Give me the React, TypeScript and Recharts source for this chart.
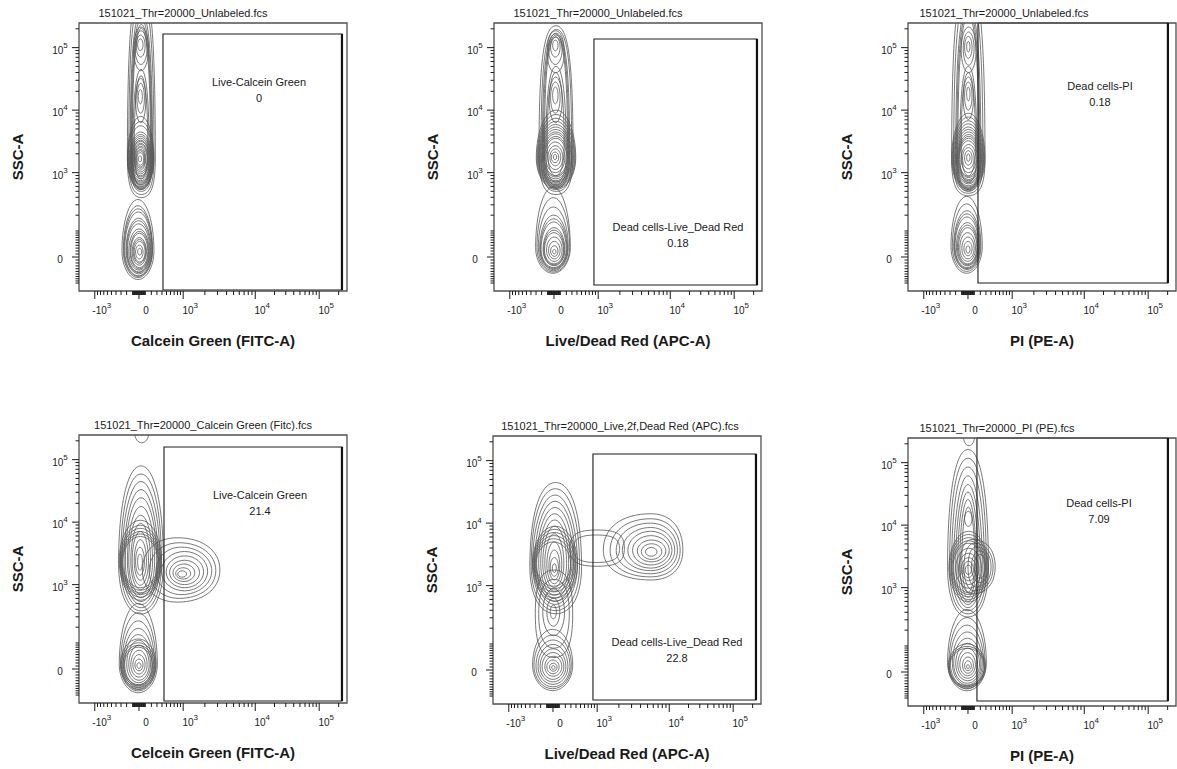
import React from "react"
import { ComposedChart, XAxis, YAxis, ReferenceArea, ReferenceLine } from "recharts"

// display units: x and y are in "decades" of the biexponential axis (0 sits on the "0" tick)
// ring = [x1, x2, y1, y2, k (share of height below widest line), q (squareness), kx (share of width left of tallest line)]
type Ring = number[]

const xDomain = [-0.882, 3.059]
const yDomain = [-0.544, 3.744]

const xMajorValues = [-1000, 0, 1000, 10000, 100000]
const xMajorLabels = [["-10", "3"], ["0", ""], ["10", "3"], ["10", "4"], ["10", "5"]]
const yMajorValues = [0, 1000, 10000, 100000]
const yMajorLabels = [["0", ""], ["10", "3"], ["10", "4"], ["10", "5"]]
const minorValues = [
  10, 20, 30, 40, 50, 60, 70, 80, 90, 100, 200, 300, 400, 500, 600, 700, 800, 900,
  2000, 3000, 4000, 5000, 6000, 7000, 8000, 9000,
  20000, 30000, 40000, 50000, 60000, 70000, 80000, 90000, 200000,
]
const xDecadePos = [0.65, 1.71, 2.65, 3.6]
const yDecadePos = [1.35, 2.35, 3.35, 4.35]

const titles = [
  "151021_Thr=20000_Unlabeled.fcs",
  "151021_Thr=20000_Unlabeled.fcs",
  "151021_Thr=20000_Unlabeled.fcs",
  "151021_Thr=20000_Calcein Green (Fitc).fcs",
  "151021_Thr=20000_Live,2f,Dead Red (APC).fcs",
  "151021_Thr=20000_PI (PE).fcs",
]
const xLabels = [
  "Calcein Green (FITC-A)",
  "Live/Dead Red (APC-A)",
  "PI (PE-A)",
  "Celcein Green (FITC-A)",
  "Live/Dead Red (APC-A)",
  "PI (PE-A)",
]
const gateNames = [
  "Live-Calcein Green",
  "Dead cells-Live_Dead Red",
  "Dead cells-PI",
  "Live-Calcein Green",
  "Dead cells-Live_Dead Red",
  "Dead cells-PI",
]
const gatePercents = [0, 0.18, 0.18, 21.4, 22.8, 7.09]

// gate rectangles [x1, x2, y1, y2]
const gates = [
  [0.353, 2.985, -0.528, 3.568],
  [0.588, 2.985, -0.448, 3.488],
  [0.147, 2.94, -0.416, 3.744],
  [0.368, 2.985, -0.512, 3.552],
  [0.588, 2.985, -0.48, 3.456],
  [0.132, 2.94, -0.464, 3.744],
]

const p1Rings: Ring[] = [
  [-0.17, 0.24, 0.95, 4.3, 0.19, 0.7], [-0.15, 0.22, 1.0, 4.1, 0.19, 0.7],
  [-0.13, 0.2, 1.05, 3.9, 0.19, 0.68], [-0.12, 0.19, 1.08, 3.8, 0.19, 0.66],
  [-0.11, 0.18, 1.1, 3.72, 0.19, 0.65], [-0.1, 0.17, 1.13, 3.66, 0.2, 0.64],
  [-0.08, 0.14, 2.98, 3.68], [-0.06, 0.12, 3.08, 3.62], [-0.04, 0.09, 3.2, 3.55], [-0.02, 0.06, 3.3, 3.49],
  [-0.09, 0.15, 1.15, 3.0, 0.25, 0.65], [-0.07, 0.13, 1.25, 2.9, 0.3, 0.62],
  [-0.05, 0.1, 2.15, 2.86], [-0.03, 0.08, 2.3, 2.78], [-0.01, 0.05, 2.45, 2.68],
  [-0.17, 0.22, 1.08, 2.25, 0.42], [-0.165, 0.215, 1.1, 2.17, 0.43], [-0.16, 0.21, 1.12, 2.1, 0.44],
  [-0.15, 0.2, 1.16, 2.0, 0.45], [-0.14, 0.19, 1.18, 1.96, 0.46], [-0.13, 0.18, 1.2, 1.93, 0.46],
  [-0.12, 0.17, 1.22, 1.9, 0.46], [-0.11, 0.16, 1.25, 1.87, 0.47], [-0.1, 0.15, 1.28, 1.85],
  [-0.09, 0.14, 1.3, 1.82, 0.48], [-0.08, 0.13, 1.33, 1.8], [-0.07, 0.12, 1.36, 1.77],
  [-0.06, 0.1, 1.39, 1.75], [-0.05, 0.09, 1.42, 1.72], [-0.04, 0.08, 1.44, 1.7],
  [-0.03, 0.07, 1.47, 1.67], [-0.01, 0.04, 1.52, 1.62],
  [-0.25, 0.22, -0.36, 0.92, 0.36], [-0.23, 0.2, -0.33, 0.82, 0.38], [-0.22, 0.195, -0.31, 0.77, 0.39],
  [-0.21, 0.19, -0.3, 0.72, 0.4], [-0.19, 0.18, -0.27, 0.62, 0.42], [-0.18, 0.17, -0.25, 0.58, 0.43],
  [-0.17, 0.16, -0.24, 0.53, 0.44], [-0.15, 0.15, -0.21, 0.45, 0.45], [-0.13, 0.14, -0.19, 0.41, 0.46],
  [-0.12, 0.13, -0.17, 0.38, 0.46], [-0.1, 0.11, -0.13, 0.31, 0.48], [-0.085, 0.1, -0.1, 0.28],
  [-0.07, 0.09, -0.08, 0.25], [-0.05, 0.06, -0.03, 0.19], [-0.02, 0.04, 0.03, 0.14],
]

const p2Rings: Ring[] = [
  [-0.22, 0.28, 1.0, 3.7, 0.25, 0.72], [-0.19, 0.26, 1.05, 3.64, 0.25, 0.72],
  [-0.17, 0.23, 1.1, 3.58, 0.24, 0.7], [-0.155, 0.215, 1.12, 3.55, 0.24, 0.69],
  [-0.14, 0.2, 1.15, 3.52, 0.24, 0.68],
  [-0.1, 0.15, 2.95, 3.62, 0.5, 0.6], [-0.08, 0.12, 3.08, 3.57], [-0.05, 0.09, 3.2, 3.52], [-0.02, 0.06, 3.3, 3.47],
  [-0.12, 0.18, 1.2, 3.05, 0.25, 0.65], [-0.1, 0.15, 1.3, 2.95, 0.3, 0.62],
  [-0.07, 0.12, 2.15, 2.88], [-0.05, 0.09, 2.3, 2.8], [-0.02, 0.06, 2.45, 2.72],
  [-0.26, 0.32, 1.08, 2.35, 0.4], [-0.25, 0.31, 1.1, 2.28, 0.41], [-0.24, 0.3, 1.12, 2.22, 0.42],
  [-0.23, 0.285, 1.14, 2.17, 0.43], [-0.22, 0.27, 1.16, 2.12, 0.44], [-0.21, 0.26, 1.18, 2.08, 0.45],
  [-0.2, 0.25, 1.2, 2.04, 0.45], [-0.185, 0.235, 1.22, 2.0, 0.46], [-0.17, 0.22, 1.25, 1.97, 0.46],
  [-0.155, 0.205, 1.28, 1.93, 0.47], [-0.14, 0.19, 1.3, 1.9, 0.47], [-0.12, 0.16, 1.35, 1.84, 0.48],
  [-0.09, 0.13, 1.4, 1.78], [-0.06, 0.1, 1.46, 1.73], [-0.04, 0.07, 1.51, 1.68], [-0.01, 0.04, 1.56, 1.64],
  [-0.27, 0.24, -0.26, 1.12, 0.3], [-0.25, 0.23, -0.24, 0.95, 0.33], [-0.23, 0.21, -0.22, 0.8, 0.36],
  [-0.21, 0.2, -0.2, 0.67, 0.38], [-0.2, 0.19, -0.185, 0.61, 0.39], [-0.19, 0.18, -0.17, 0.56, 0.4],
  [-0.16, 0.16, -0.14, 0.47, 0.42], [-0.15, 0.15, -0.125, 0.43, 0.43], [-0.14, 0.14, -0.11, 0.39, 0.44],
  [-0.11, 0.12, -0.07, 0.32, 0.46], [-0.08, 0.09, -0.03, 0.25, 0.48],
  [-0.05, 0.06, 0.01, 0.18], [-0.02, 0.03, 0.05, 0.12],
]

const p3Rings: Ring[] = [
  [-0.24, 0.25, 0.98, 4.4, 0.17, 0.7], [-0.21, 0.22, 1.02, 4.2, 0.17, 0.7],
  [-0.18, 0.19, 1.06, 4.0, 0.17, 0.68], [-0.165, 0.175, 1.08, 3.92, 0.17, 0.67],
  [-0.15, 0.16, 1.1, 3.85, 0.17, 0.66],
  [-0.1, 0.12, 2.95, 3.68], [-0.07, 0.09, 3.07, 3.6], [-0.05, 0.06, 3.18, 3.53], [-0.02, 0.03, 3.28, 3.45],
  [-0.12, 0.13, 1.2, 3.05, 0.25, 0.65], [-0.1, 0.11, 1.3, 2.95, 0.3, 0.62],
  [-0.07, 0.08, 2.2, 2.88], [-0.05, 0.06, 2.35, 2.8], [-0.02, 0.03, 2.5, 2.72],
  [-0.24, 0.25, 1.05, 2.3, 0.42], [-0.23, 0.24, 1.08, 2.24, 0.42], [-0.22, 0.23, 1.1, 2.18, 0.43],
  [-0.21, 0.22, 1.12, 2.13, 0.43], [-0.2, 0.21, 1.14, 2.08, 0.44], [-0.185, 0.2, 1.17, 2.04, 0.44],
  [-0.17, 0.19, 1.19, 2.0, 0.45], [-0.16, 0.18, 1.22, 1.96, 0.45], [-0.15, 0.17, 1.24, 1.93, 0.46],
  [-0.14, 0.155, 1.27, 1.9, 0.46], [-0.13, 0.14, 1.29, 1.86, 0.47], [-0.1, 0.12, 1.35, 1.8, 0.48],
  [-0.08, 0.09, 1.41, 1.75], [-0.05, 0.06, 1.47, 1.7], [-0.02, 0.03, 1.53, 1.65],
  [-0.25, 0.21, -0.26, 0.97, 0.35], [-0.23, 0.19, -0.23, 0.85, 0.37], [-0.21, 0.18, -0.2, 0.74, 0.39],
  [-0.2, 0.17, -0.185, 0.69, 0.4], [-0.19, 0.16, -0.17, 0.64, 0.41], [-0.17, 0.15, -0.14, 0.55, 0.43],
  [-0.155, 0.14, -0.125, 0.51, 0.44], [-0.14, 0.13, -0.11, 0.47, 0.45], [-0.12, 0.11, -0.07, 0.39, 0.46],
  [-0.09, 0.09, -0.03, 0.32, 0.48], [-0.06, 0.06, 0.02, 0.25], [-0.03, 0.03, 0.06, 0.18],
]

const p4Rings: Ring[] = [
  [-0.06, 0.14, 3.62, 3.9],
  [-0.3, 0.36, 0.88, 3.25, 0.34, 0.6], [-0.27, 0.33, 0.93, 3.12, 0.35, 0.6], [-0.25, 0.31, 0.98, 3.0, 0.36],
  [-0.22, 0.28, 1.03, 2.87, 0.37], [-0.2, 0.26, 1.08, 2.74, 0.38], [-0.17, 0.23, 1.14, 2.6, 0.4],
  [-0.15, 0.2, 1.2, 2.46, 0.42], [-0.12, 0.17, 1.27, 2.33, 0.43], [-0.1, 0.14, 1.34, 2.2, 0.45],
  [-0.07, 0.11, 1.42, 2.07, 0.47], [-0.05, 0.08, 1.5, 1.95, 0.48], [-0.02, 0.05, 1.58, 1.84],
  [-0.29, 0.33, 1.1, 2.38], [-0.28, 0.32, 1.15, 2.3], [-0.27, 0.31, 1.19, 2.25], [-0.26, 0.3, 1.22, 2.2],
  [-0.25, 0.29, 1.26, 2.16], [-0.24, 0.28, 1.3, 2.12],
  [0.05, 1.19, 1.07, 2.1, 0.5, 0.6, 0.45], [0.15, 1.13, 1.13, 2.02, 0.5, 0.58, 0.45], [0.25, 1.07, 1.19, 1.95, 0.5, 0.56, 0.45],
  [0.33, 1.01, 1.25, 1.88], [0.4, 0.95, 1.3, 1.81], [0.45, 0.89, 1.35, 1.74],
  [0.5, 0.82, 1.4, 1.68], [0.54, 0.76, 1.44, 1.62], [0.57, 0.7, 1.47, 1.57],
  [-0.29, 0.27, -0.38, 1.05, 0.32], [-0.27, 0.25, -0.35, 0.9, 0.34], [-0.25, 0.23, -0.32, 0.77, 0.36],
  [-0.23, 0.21, -0.29, 0.65, 0.38], [-0.21, 0.19, -0.26, 0.55, 0.4], [-0.18, 0.17, -0.22, 0.46, 0.42],
  [-0.15, 0.15, -0.18, 0.38, 0.44], [-0.12, 0.12, -0.13, 0.3, 0.46], [-0.09, 0.09, -0.08, 0.23, 0.48],
  [-0.06, 0.06, -0.03, 0.16], [-0.03, 0.03, 0.01, 0.1],
  [-0.27, 0.25, -0.33, 0.48], [-0.26, 0.24, -0.3, 0.42], [-0.24, 0.22, -0.27, 0.38], [-0.22, 0.2, -0.25, 0.35],
]

const p5Rings: Ring[] = [
  [-0.34, 0.42, 0.9, 3.0, 0.36, 0.62], [-0.32, 0.39, 0.95, 2.9, 0.37, 0.6], [-0.3, 0.36, 1.0, 2.8, 0.38],
  [-0.27, 0.33, 1.05, 2.7, 0.39], [-0.24, 0.3, 1.1, 2.6, 0.4], [-0.21, 0.26, 1.15, 2.5, 0.41],
  [-0.18, 0.23, 1.2, 2.4, 0.42], [-0.15, 0.2, 1.26, 2.3, 0.43], [-0.12, 0.16, 1.32, 2.18, 0.45],
  [-0.09, 0.13, 1.38, 2.05, 0.46], [-0.06, 0.1, 1.44, 1.92, 0.48], [-0.04, 0.08, 1.5, 1.8], [-0.01, 0.05, 1.56, 1.7],
  [-0.3, 0.36, 1.1, 2.3], [-0.29, 0.34, 1.15, 2.25], [-0.28, 0.32, 1.2, 2.2], [-0.27, 0.3, 1.25, 2.15],
  [-0.26, 0.28, 1.3, 2.1], [-0.25, 0.26, 1.34, 2.05],
  [-0.26, 0.29, 0.2, 1.6, 0.5, 0.7], [-0.21, 0.24, 0.35, 1.45, 0.5, 0.65],
  [-0.15, 0.17, 0.55, 1.3], [-0.09, 0.1, 0.7, 1.15], [-0.04, 0.05, 0.82, 1.04],
  [-0.3, 0.29, -0.33, 0.65, 0.42], [-0.28, 0.27, -0.3, 0.56, 0.43], [-0.25, 0.25, -0.27, 0.48, 0.44],
  [-0.22, 0.22, -0.23, 0.41, 0.45], [-0.19, 0.19, -0.19, 0.34, 0.46], [-0.16, 0.16, -0.15, 0.28, 0.47],
  [-0.12, 0.13, -0.1, 0.22, 0.48], [-0.09, 0.09, -0.06, 0.16], [-0.05, 0.06, -0.02, 0.11], [-0.02, 0.03, 0.01, 0.07],
  [0.25, 1.05, 1.66, 2.24, 0.5, 0.75], [0.3, 0.98, 1.72, 2.16, 0.5, 0.72],
  [0.74, 1.91, 1.44, 2.5, 0.45, 0.62, 0.6], [0.84, 1.87, 1.49, 2.42, 0.45, 0.6, 0.58],
  [0.93, 1.83, 1.54, 2.35, 0.46, 0.58, 0.56], [1.02, 1.79, 1.59, 2.28, 0.47, 0.56, 0.54],
  [1.1, 1.75, 1.63, 2.22, 0.48, 0.55, 0.52], [1.17, 1.71, 1.68, 2.15],
  [1.24, 1.66, 1.73, 2.08], [1.3, 1.6, 1.77, 2.02], [1.36, 1.53, 1.82, 1.96],
]

const p6Rings: Ring[] = [
  [-0.07, 0.1, 3.62, 3.95],
  [-0.3, 0.3, 0.88, 3.56, 0.3, 0.62], [-0.27, 0.27, 0.93, 3.42, 0.3, 0.62], [-0.24, 0.24, 0.98, 3.28, 0.31, 0.6],
  [-0.21, 0.21, 1.03, 3.14, 0.32], [-0.18, 0.18, 1.08, 3.0, 0.33], [-0.15, 0.15, 1.13, 2.88, 0.34],
  [-0.12, 0.12, 1.2, 2.76, 0.35], [-0.09, 0.1, 1.28, 2.64, 0.37], [-0.05, 0.06, 2.33, 2.57],
  [-0.28, 0.3, 1.12, 2.25, 0.48], [-0.265, 0.285, 1.16, 2.2], [-0.25, 0.27, 1.2, 2.15], [-0.235, 0.255, 1.24, 2.1],
  [-0.22, 0.24, 1.27, 2.06], [-0.18, 0.2, 1.34, 1.98],
  [-0.14, 0.16, 1.4, 1.9], [-0.1, 0.12, 1.46, 1.83], [-0.07, 0.08, 1.51, 1.77], [-0.04, 0.05, 1.56, 1.71],
  [-0.12, 0.4, 1.25, 2.12, 0.5, 0.62, 0.35], [-0.06, 0.37, 1.3, 2.06, 0.5, 0.6, 0.35],
  [0.0, 0.34, 1.36, 2.0, 0.5, 0.6, 0.35], [0.05, 0.3, 1.43, 1.94], [0.09, 0.26, 1.5, 1.88],
  [-0.3, 0.27, -0.3, 1.0, 0.35], [-0.28, 0.25, -0.27, 0.87, 0.37], [-0.26, 0.23, -0.24, 0.75, 0.39],
  [-0.23, 0.21, -0.21, 0.64, 0.41], [-0.21, 0.19, -0.18, 0.54, 0.43], [-0.18, 0.17, -0.14, 0.46, 0.45],
  [-0.15, 0.14, -0.1, 0.38, 0.46], [-0.12, 0.11, -0.06, 0.31, 0.48], [-0.08, 0.08, -0.02, 0.24],
  [-0.05, 0.05, 0.02, 0.18], [-0.02, 0.02, 0.05, 0.12],
  [-0.29, 0.26, -0.26, 0.45], [-0.28, 0.25, -0.24, 0.41], [-0.27, 0.24, -0.22, 0.38],
]

const panelRings = [p1Rings, p2Rings, p3Rings, p4Rings, p5Rings, p6Rings]

// layout (frame position in page px, title centre, gate text centre relative to frame)
const layout = [
  { left: 79, top: 23, titleX: 104, gateText: [180, 59] },
  { left: 494, top: 23, titleX: 104, gateText: [184, 204] },
  { left: 908, top: 23, titleX: 96, gateText: [192, 63] },
  { left: 79, top: 435, titleX: 124, gateText: [181, 60] },
  { left: 493, top: 436, titleX: 127, gateText: [184, 206] },
  { left: 908, top: 438, titleX: 89, gateText: [191, 65] },
]

const FRAME = 268
const ML = 80
const MT = 20
const MR = 6
const MB = 30
const FONT = "'Liberation Sans', Arial, sans-serif"

function makeScale(decades: number[], c: number) {
  const a1 = Math.asinh(1000 / c)
  return (v: number) => {
    const a = Math.abs(v)
    let p
    if (a <= 1000) p = (decades[0] * Math.asinh(a / c)) / a1
    else {
      const l = Math.log10(a)
      const n = Math.floor(l)
      const i = n - 3
      p = decades[i] + (l - n) * (decades[i + 1] - decades[i])
    }
    return Math.sign(v) * p
  }
}

const fx = makeScale(xDecadePos, 450)
const fy = makeScale(yDecadePos, 90)

type TickInfo = { len: number; label?: string[] }

function buildTicks(f: (v: number) => number, majors: number[], labels: string[][], domain: number[], majorLen: number, minorLen: number) {
  const info = new Map<number, TickInfo>()
  const all = [...minorValues, ...minorValues.map((v) => -v)]
  all.forEach((v) => info.set(f(v), { len: minorLen }))
  majors.forEach((v, i) => info.set(f(v), { len: majorLen, label: labels[i] }))
  const ticks = [...info.keys()].filter((t) => t >= domain[0] && t <= domain[1]).sort((a, b) => a - b)
  return { ticks, info }
}

const xT = buildTicks(fx, xMajorValues, xMajorLabels, xDomain, 8, 4)
const yT = buildTicks(fy, yMajorValues, yMajorLabels, yDomain, 7, 3.5)

function XTick(props: any) {
  const { x, y, payload } = props
  const t = xT.info.get(payload.value)
  if (!t) return null
  return (
    <g>
      <line x1={x} y1={y} x2={x} y2={y + t.len} stroke="#1a1a1a" strokeWidth={1} />
      {t.label && (
        <text x={x + 7} y={y + 23} textAnchor="middle" fontSize={10} fill="#222" fontFamily={FONT}>
          {t.label[0]}
          {t.label[1] && (
            <tspan dy={-6} fontSize={8}>
              {t.label[1]}
            </tspan>
          )}
        </text>
      )}
    </g>
  )
}

function YTick(props: any) {
  const { x, y, payload } = props
  const t = yT.info.get(payload.value)
  if (!t) return null
  return (
    <g>
      <line x1={x} y1={y} x2={x - t.len} y2={y} stroke="#1a1a1a" strokeWidth={1} />
      {t.label && (
        <text x={x - 19} y={y + 6} textAnchor="middle" fontSize={10} fill="#222" fontFamily={FONT}>
          {t.label[0]}
          {t.label[1] && (
            <tspan dy={-6} fontSize={8}>
              {t.label[1]}
            </tspan>
          )}
        </text>
      )}
    </g>
  )
}

function Egg(props: any) {
  const { x, y, width, height, k, q, kx, clipPath } = props
  if ([x, y, width, height].some((v) => typeof v !== "number" || isNaN(v))) return null
  const w = Math.abs(width)
  const h = Math.abs(height)
  const x0 = width < 0 ? x + width : x
  const y0 = height < 0 ? y + height : y
  const rl = w * kx
  const rr = w * (1 - kx)
  const cx = x0 + rl
  const hb = h * k
  const ht = h * (1 - k)
  const ym = y0 + ht
  const d =
    `M${cx - rl},${ym} C${cx - rl},${ym + q * hb} ${cx - q * rl},${ym + hb} ${cx},${ym + hb} ` +
    `C${cx + q * rr},${ym + hb} ${cx + rr},${ym + q * hb} ${cx + rr},${ym} ` +
    `C${cx + rr},${ym - q * ht} ${cx + q * rr},${ym - ht} ${cx},${ym - ht} ` +
    `C${cx - q * rl},${ym - ht} ${cx - rl},${ym - q * ht} ${cx - rl},${ym} Z`
  return <path d={d} fill="none" stroke="#555" strokeWidth={0.8} clipPath={clipPath} />
}

function Panel({ index }: { index: number }) {
  const lay = layout[index]
  const gate = gates[index]
  const rings = panelRings[index]
  return (
    <div style={{ position: "absolute", left: lay.left - ML, top: lay.top - MT }}>
      <ComposedChart
        width={ML + FRAME + MR}
        height={MT + FRAME + MB}
        margin={{ top: MT, right: MR, bottom: 0, left: 0 }}
        data={[]}
      >
        <XAxis
          type="number"
          dataKey="x"
          domain={xDomain}
          allowDataOverflow
          ticks={xT.ticks}
          interval={0}
          tick={(p: any) => <XTick {...p} />}
          tickLine={false}
          axisLine={false}
          tickSize={0}
          tickMargin={0}
          height={MB}
        />
        <YAxis
          type="number"
          dataKey="y"
          domain={yDomain}
          allowDataOverflow
          ticks={yT.ticks}
          interval={0}
          tick={(p: any) => <YTick {...p} />}
          tickLine={false}
          axisLine={false}
          tickSize={0}
          tickMargin={0}
          width={ML}
        />
        {rings.map((r, i) => (
          <ReferenceArea
            key={`ring-${i}`}
            x1={r[0]}
            x2={r[1]}
            y1={r[2]}
            y2={r[3]}
            ifOverflow="hidden"
            shape={(p: any) => <Egg {...p} k={r[4] ?? 0.5} q={r[5] ?? 0.55} kx={r[6] ?? 0.5} />}
          />
        ))}
        <ReferenceArea
          x1={gate[0]}
          x2={gate[1]}
          y1={gate[2]}
          y2={gate[3]}
          ifOverflow="visible"
          fill="none"
          fillOpacity={0}
          stroke="#1a1a1a"
          strokeWidth={1.1}
        />
        <ReferenceLine
          segment={[
            { x: gate[1], y: gate[2] },
            { x: gate[1], y: gate[3] },
          ]}
          ifOverflow="visible"
          stroke="#111"
          strokeWidth={2.2}
        />
        <ReferenceArea
          x1={xDomain[0]}
          x2={xDomain[1]}
          y1={yDomain[0]}
          y2={yDomain[1]}
          ifOverflow="visible"
          fill="none"
          fillOpacity={0}
          stroke="#505050"
          strokeWidth={1.3}
        />
      </ComposedChart>
    </div>
  )
}

const textBase: React.CSSProperties = {
  position: "absolute",
  transform: "translate(-50%, -50%)",
  whiteSpace: "nowrap",
  fontFamily: FONT,
  color: "#1a1a1a",
  lineHeight: 1,
}

export default function App() {
  return (
    <div
      style={{
        position: "absolute",
        left: 0,
        top: 0,
        width: 1177,
        height: 769,
        overflow: "hidden",
        background: "#fff",
        fontFamily: FONT,
      }}
    >
      {layout.map((lay, i) => (
        <React.Fragment key={i}>
          <Panel index={i} />
          <div style={{ ...textBase, left: lay.left + lay.titleX, top: lay.top - 10, fontSize: 11 }}>{titles[i]}</div>
          <div
            style={{
              ...textBase,
              left: lay.left + FRAME / 2,
              top: lay.top + FRAME + 49,
              fontSize: 15,
              fontWeight: "bold",
            }}
          >
            {xLabels[i]}
          </div>
          <div
            style={{
              ...textBase,
              left: lay.left - 62,
              top: lay.top + FRAME / 2,
              fontSize: 15,
              fontWeight: "bold",
              transform: "translate(-50%, -50%) rotate(-90deg)",
            }}
          >
            SSC-A
          </div>
          <div
            style={{ ...textBase, left: lay.left + lay.gateText[0], top: lay.top + lay.gateText[1], fontSize: 11 }}
          >
            {gateNames[i]}
          </div>
          <div
            style={{ ...textBase, left: lay.left + lay.gateText[0], top: lay.top + lay.gateText[1] + 16, fontSize: 11 }}
          >
            {String(gatePercents[i])}
          </div>
        </React.Fragment>
      ))}
    </div>
  )
}
